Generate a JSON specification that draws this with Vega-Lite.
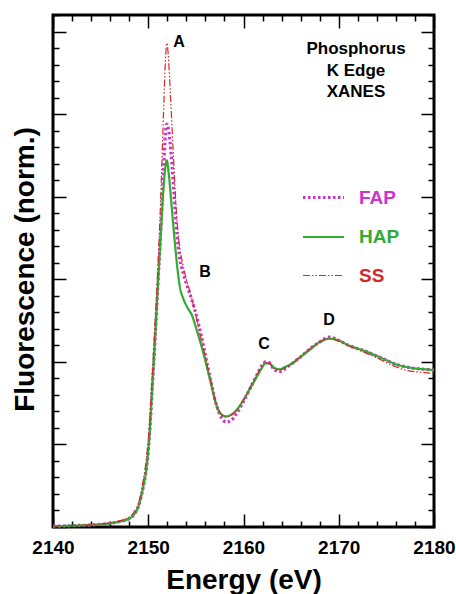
{
  "$schema": "https://vega.github.io/schema/vega-lite/v6.json",
  "autosize": "none",
  "width": 381,
  "height": 512,
  "padding": {"left": 53, "top": 15, "right": 22, "bottom": 67},
  "background": "white",
  "config": {
    "view": {"stroke": "black", "strokeWidth": 3},
    "font": "Liberation Sans",
    "axis": {"domain": false, "grid": false, "tickColor": "black", "tickWidth": 1.5}
  },
  "layer": [
    {
      "data": {"values": [
        {"s":"FAP","E":2140,"v":0.005},{"s":"FAP","E":2141,"v":0.006},{"s":"FAP","E":2142,"v":0.008},{"s":"FAP","E":2143,"v":0.01},{"s":"FAP","E":2144,"v":0.012},{"s":"FAP","E":2145,"v":0.016},{"s":"FAP","E":2146,"v":0.022},{"s":"FAP","E":2147,"v":0.033},{"s":"FAP","E":2147.5,"v":0.04},{"s":"FAP","E":2148,"v":0.05},{"s":"FAP","E":2148.5,"v":0.075},{"s":"FAP","E":2149,"v":0.13},{"s":"FAP","E":2149.5,"v":0.25},{"s":"FAP","E":2149.8,"v":0.35},{"s":"FAP","E":2150.1,"v":0.53},{"s":"FAP","E":2150.4,"v":0.82},{"s":"FAP","E":2150.7,"v":1.12},{"s":"FAP","E":2151.0,"v":1.45},{"s":"FAP","E":2151.3,"v":1.78},{"s":"FAP","E":2151.6,"v":2.15},{"s":"FAP","E":2151.8,"v":2.38},{"s":"FAP","E":2151.95,"v":2.44},{"s":"FAP","E":2152.15,"v":2.4},{"s":"FAP","E":2152.4,"v":2.26},{"s":"FAP","E":2152.7,"v":2.02},{"s":"FAP","E":2153.0,"v":1.78},{"s":"FAP","E":2153.3,"v":1.63},{"s":"FAP","E":2153.7,"v":1.53},{"s":"FAP","E":2154.2,"v":1.44},{"s":"FAP","E":2154.6,"v":1.37},{"s":"FAP","E":2155.1,"v":1.27},{"s":"FAP","E":2155.6,"v":1.15},{"s":"FAP","E":2156.5,"v":0.9},{"s":"FAP","E":2157.2,"v":0.73},{"s":"FAP","E":2157.7,"v":0.66},{"s":"FAP","E":2158.2,"v":0.635},{"s":"FAP","E":2158.7,"v":0.645},{"s":"FAP","E":2159.3,"v":0.69},{"s":"FAP","E":2160.0,"v":0.76},{"s":"FAP","E":2160.7,"v":0.84},{"s":"FAP","E":2161.4,"v":0.92},{"s":"FAP","E":2161.9,"v":0.975},{"s":"FAP","E":2162.3,"v":1.0},{"s":"FAP","E":2162.7,"v":0.995},{"s":"FAP","E":2163.2,"v":0.955},{"s":"FAP","E":2163.8,"v":0.94},{"s":"FAP","E":2164.4,"v":0.96},{"s":"FAP","E":2165.1,"v":0.99},{"s":"FAP","E":2166,"v":1.03},{"s":"FAP","E":2167,"v":1.08},{"s":"FAP","E":2168,"v":1.12},{"s":"FAP","E":2169,"v":1.15},{"s":"FAP","E":2170,"v":1.13},{"s":"FAP","E":2171,"v":1.1},{"s":"FAP","E":2172,"v":1.08},{"s":"FAP","E":2173,"v":1.06},{"s":"FAP","E":2174,"v":1.035},{"s":"FAP","E":2175,"v":1.01},{"s":"FAP","E":2176,"v":0.985},{"s":"FAP","E":2177,"v":0.97},{"s":"FAP","E":2178,"v":0.96},{"s":"FAP","E":2179,"v":0.955},{"s":"FAP","E":2180,"v":0.95},
        {"s":"HAP","E":2140,"v":0.005},{"s":"HAP","E":2141,"v":0.006},{"s":"HAP","E":2142,"v":0.008},{"s":"HAP","E":2143,"v":0.01},{"s":"HAP","E":2144,"v":0.012},{"s":"HAP","E":2145,"v":0.016},{"s":"HAP","E":2146,"v":0.022},{"s":"HAP","E":2147,"v":0.033},{"s":"HAP","E":2147.5,"v":0.04},{"s":"HAP","E":2148,"v":0.05},{"s":"HAP","E":2148.5,"v":0.075},{"s":"HAP","E":2149,"v":0.13},{"s":"HAP","E":2149.5,"v":0.25},{"s":"HAP","E":2149.8,"v":0.35},{"s":"HAP","E":2150.1,"v":0.53},{"s":"HAP","E":2150.4,"v":0.82},{"s":"HAP","E":2150.7,"v":1.12},{"s":"HAP","E":2151.0,"v":1.45},{"s":"HAP","E":2151.3,"v":1.75},{"s":"HAP","E":2151.6,"v":2.05},{"s":"HAP","E":2151.8,"v":2.18},{"s":"HAP","E":2151.95,"v":2.22},{"s":"HAP","E":2152.15,"v":2.14},{"s":"HAP","E":2152.4,"v":1.98},{"s":"HAP","E":2152.7,"v":1.78},{"s":"HAP","E":2153.0,"v":1.6},{"s":"HAP","E":2153.3,"v":1.46},{"s":"HAP","E":2153.7,"v":1.38},{"s":"HAP","E":2154.1,"v":1.33},{"s":"HAP","E":2154.6,"v":1.28},{"s":"HAP","E":2155.1,"v":1.19},{"s":"HAP","E":2155.8,"v":1.05},{"s":"HAP","E":2156.5,"v":0.89},{"s":"HAP","E":2157.2,"v":0.73},{"s":"HAP","E":2157.7,"v":0.68},{"s":"HAP","E":2158.2,"v":0.67},{"s":"HAP","E":2158.7,"v":0.68},{"s":"HAP","E":2159.3,"v":0.71},{"s":"HAP","E":2160.0,"v":0.77},{"s":"HAP","E":2160.7,"v":0.84},{"s":"HAP","E":2161.4,"v":0.91},{"s":"HAP","E":2161.9,"v":0.96},{"s":"HAP","E":2162.3,"v":0.99},{"s":"HAP","E":2162.7,"v":0.99},{"s":"HAP","E":2163.2,"v":0.965},{"s":"HAP","E":2163.8,"v":0.955},{"s":"HAP","E":2164.4,"v":0.97},{"s":"HAP","E":2165.1,"v":0.99},{"s":"HAP","E":2166,"v":1.03},{"s":"HAP","E":2167,"v":1.075},{"s":"HAP","E":2168,"v":1.12},{"s":"HAP","E":2169,"v":1.14},{"s":"HAP","E":2170,"v":1.13},{"s":"HAP","E":2171,"v":1.1},{"s":"HAP","E":2172,"v":1.08},{"s":"HAP","E":2173,"v":1.06},{"s":"HAP","E":2174,"v":1.035},{"s":"HAP","E":2175,"v":1.01},{"s":"HAP","E":2176,"v":0.985},{"s":"HAP","E":2177,"v":0.97},{"s":"HAP","E":2178,"v":0.96},{"s":"HAP","E":2179,"v":0.955},{"s":"HAP","E":2180,"v":0.95},
        {"s":"SS","E":2140,"v":0.005},{"s":"SS","E":2141,"v":0.007},{"s":"SS","E":2142,"v":0.009},{"s":"SS","E":2143,"v":0.011},{"s":"SS","E":2144,"v":0.014},{"s":"SS","E":2145,"v":0.018},{"s":"SS","E":2146,"v":0.025},{"s":"SS","E":2147,"v":0.037},{"s":"SS","E":2147.5,"v":0.047},{"s":"SS","E":2148,"v":0.06},{"s":"SS","E":2148.5,"v":0.09},{"s":"SS","E":2149,"v":0.15},{"s":"SS","E":2149.5,"v":0.29},{"s":"SS","E":2149.8,"v":0.41},{"s":"SS","E":2150.1,"v":0.6},{"s":"SS","E":2150.4,"v":0.9},{"s":"SS","E":2150.7,"v":1.22},{"s":"SS","E":2151.0,"v":1.56},{"s":"SS","E":2151.3,"v":1.98},{"s":"SS","E":2151.6,"v":2.5},{"s":"SS","E":2151.8,"v":2.82},{"s":"SS","E":2151.95,"v":2.93},{"s":"SS","E":2152.1,"v":2.86},{"s":"SS","E":2152.3,"v":2.65},{"s":"SS","E":2152.6,"v":2.3},{"s":"SS","E":2152.9,"v":1.96},{"s":"SS","E":2153.2,"v":1.74},{"s":"SS","E":2153.6,"v":1.6},{"s":"SS","E":2154.0,"v":1.5},{"s":"SS","E":2154.5,"v":1.4},{"s":"SS","E":2155.0,"v":1.28},{"s":"SS","E":2155.5,"v":1.15},{"s":"SS","E":2156.0,"v":1.03},{"s":"SS","E":2156.5,"v":0.9},{"s":"SS","E":2157.2,"v":0.74},{"s":"SS","E":2157.7,"v":0.68},{"s":"SS","E":2158.2,"v":0.665},{"s":"SS","E":2158.7,"v":0.675},{"s":"SS","E":2159.3,"v":0.71},{"s":"SS","E":2160.0,"v":0.77},{"s":"SS","E":2160.7,"v":0.845},{"s":"SS","E":2161.4,"v":0.92},{"s":"SS","E":2161.9,"v":0.97},{"s":"SS","E":2162.3,"v":0.995},{"s":"SS","E":2162.7,"v":0.99},{"s":"SS","E":2163.2,"v":0.96},{"s":"SS","E":2163.8,"v":0.95},{"s":"SS","E":2164.4,"v":0.965},{"s":"SS","E":2165.1,"v":0.99},{"s":"SS","E":2166,"v":1.035},{"s":"SS","E":2167,"v":1.08},{"s":"SS","E":2168,"v":1.12},{"s":"SS","E":2169,"v":1.14},{"s":"SS","E":2170,"v":1.125},{"s":"SS","E":2171,"v":1.1},{"s":"SS","E":2172,"v":1.075},{"s":"SS","E":2173,"v":1.05},{"s":"SS","E":2174,"v":1.025},{"s":"SS","E":2175,"v":0.995},{"s":"SS","E":2176,"v":0.97},{"s":"SS","E":2177,"v":0.95},{"s":"SS","E":2178,"v":0.94},{"s":"SS","E":2179,"v":0.935},{"s":"SS","E":2180,"v":0.93}
      ]},
      "mark": {"type": "line", "interpolate": "monotone", "strokeCap": "butt"},
      "encoding": {
        "x": {
          "field": "E", "type": "quantitative",
          "scale": {"domain": [2140, 2180], "nice": false, "zero": false},
          "axis": {
            "orient": "bottom", "offset": -13, "tickSize": 13,
            "values": [2140, 2150, 2160, 2170, 2180], "format": "d",
            "labelFont": "Liberation Sans", "labelFontSize": 19, "labelFontWeight": "bold", "labelColor": "black",
            "labelPadding": 11, "labelFlush": false, "labelOverlap": false,
            "title": "Energy (eV)", "titleFont": "Liberation Sans", "titleFontSize": 28, "titleFontWeight": "bold", "titleColor": "black",
            "titleX": 190.5, "titleY": 74, "titleAlign": "center", "titleBaseline": "alphabetic"
          }
        },
        "y": {
          "field": "v", "type": "quantitative",
          "scale": {"domain": [0, 3.1], "nice": false, "zero": false},
          "axis": {
            "orient": "left", "offset": -13, "tickSize": 13,
            "values": [0, 0.5, 1, 1.5, 2, 2.5, 3],
            "labels": false,
            "title": "Fluorescence (norm.)", "titleFont": "Liberation Sans", "titleFontSize": 28, "titleFontWeight": "bold", "titleColor": "black",
            "titleAngle": -90, "titleX": -33, "titleY": 254, "titleAlign": "center", "titleBaseline": "alphabetic"
          }
        },
        "color": {
          "field": "s", "type": "nominal",
          "scale": {"domain": ["FAP", "HAP", "SS"], "range": ["#cc33cc", "#33aa33", "#d42a2a"]},
          "legend": {
            "orient": "none", "legendX": 248, "legendY": 160, "title": null, "padding": 0,
            "symbolType": "stroke", "symbolSize": 1681,
            "labelFont": "Liberation Sans", "labelFontSize": 19, "labelFontWeight": "bold",
            "labelColor": {"expr": "scale('color', datum.value)"},
            "labelOffset": 13, "rowPadding": 7
          }
        },
        "strokeDash": {
          "field": "s", "type": "nominal",
          "scale": {"domain": ["FAP", "HAP", "SS"], "range": [[2.5, 2.5], [1, 0], [7, 2, 1.5, 2, 1.5, 2]]},
          "legend": {
            "orient": "none", "legendX": 248, "legendY": 160, "title": null, "padding": 0,
            "symbolType": "stroke", "symbolSize": 1681,
            "labelFont": "Liberation Sans", "labelFontSize": 19, "labelFontWeight": "bold",
            "labelColor": {"expr": "scale('color', datum.value)"},
            "labelOffset": 13, "rowPadding": 7
          }
        },
        "strokeWidth": {
          "field": "s", "type": "nominal",
          "scale": {"domain": ["FAP", "HAP", "SS"], "range": [3.2, 1.2, 1.3]},
          "legend": {
            "orient": "none", "legendX": 248, "legendY": 160, "title": null, "padding": 0,
            "symbolType": "stroke", "symbolSize": 1681,
            "labelFont": "Liberation Sans", "labelFontSize": 19, "labelFontWeight": "bold",
            "labelColor": {"expr": "scale('color', datum.value)"},
            "labelOffset": 13, "rowPadding": 7
          }
        }
      }
    },
    {
      "data": {"values": [
        {"label": "A", "E": 2153.23, "v": 2.936},
        {"label": "B", "E": 2155.96, "v": 1.544}
      ]},
      "mark": {"type": "text", "font": "Liberation Sans", "fontSize": 16, "fontWeight": "bold", "color": "black", "align": "center", "baseline": "middle"},
      "encoding": {
        "text": {"field": "label"},
        "x": {
          "field": "E", "type": "quantitative",
          "scale": {"domain": [2140, 2180], "nice": false, "zero": false},
          "axis": {"orient": "top", "offset": -13, "tickSize": 13, "values": [2140, 2150, 2160, 2170, 2180], "labels": false, "title": null}
        },
        "y": {
          "field": "v", "type": "quantitative",
          "scale": {"domain": [0, 3.1], "nice": false, "zero": false},
          "axis": {"orient": "right", "offset": -13, "tickSize": 13, "values": [0, 0.5, 1, 1.5, 2, 2.5, 3], "labels": false, "title": null}
        }
      }
    },
    {
      "data": {"values": [
        {"label": "C", "E": 2162.15, "v": 1.108},
        {"label": "D", "E": 2168.98, "v": 1.253}
      ]},
      "mark": {"type": "text", "font": "Liberation Sans", "fontSize": 16, "fontWeight": "bold", "color": "black", "align": "center", "baseline": "middle"},
      "encoding": {
        "text": {"field": "label"},
        "x": {
          "field": "E", "type": "quantitative",
          "scale": {"domain": [2140, 2180], "nice": false, "zero": false},
          "axis": {"orient": "top", "offset": -6, "tickSize": 6, "values": [2142,2144,2146,2148,2152,2154,2156,2158,2162,2164,2166,2168,2172,2174,2176,2178], "labels": false, "title": null}
        },
        "y": {
          "field": "v", "type": "quantitative",
          "scale": {"domain": [0, 3.1], "nice": false, "zero": false},
          "axis": {"orient": "right", "offset": -6, "tickSize": 6, "values": [0.1,0.2,0.3,0.4,0.6,0.7,0.8,0.9,1.1,1.2,1.3,1.4,1.6,1.7,1.8,1.9,2.1,2.2,2.3,2.4,2.6,2.7,2.8,2.9,3.1], "labels": false, "title": null}
        }
      }
    },
    {
      "data": {"values": [
        {"label": "Phosphorus\nK Edge\nXANES", "E": 2171.81, "v": 2.863}
      ]},
      "mark": {"type": "text", "font": "Liberation Sans", "fontSize": 17, "fontWeight": "bold", "color": "black", "align": "center", "baseline": "alphabetic", "lineBreak": "\n", "lineHeight": 21.5},
      "encoding": {
        "text": {"field": "label"},
        "x": {
          "field": "E", "type": "quantitative",
          "scale": {"domain": [2140, 2180], "nice": false, "zero": false},
          "axis": {"orient": "bottom", "offset": -6, "tickSize": 6, "values": [2142,2144,2146,2148,2152,2154,2156,2158,2162,2164,2166,2168,2172,2174,2176,2178], "labels": false, "title": null}
        },
        "y": {
          "field": "v", "type": "quantitative",
          "scale": {"domain": [0, 3.1], "nice": false, "zero": false},
          "axis": {"orient": "left", "offset": -6, "tickSize": 6, "values": [0.1,0.2,0.3,0.4,0.6,0.7,0.8,0.9,1.1,1.2,1.3,1.4,1.6,1.7,1.8,1.9,2.1,2.2,2.3,2.4,2.6,2.7,2.8,2.9,3.1], "labels": false, "title": null}
        }
      }
    }
  ],
  "resolve": {"axis": {"x": "independent", "y": "independent"}}
}
